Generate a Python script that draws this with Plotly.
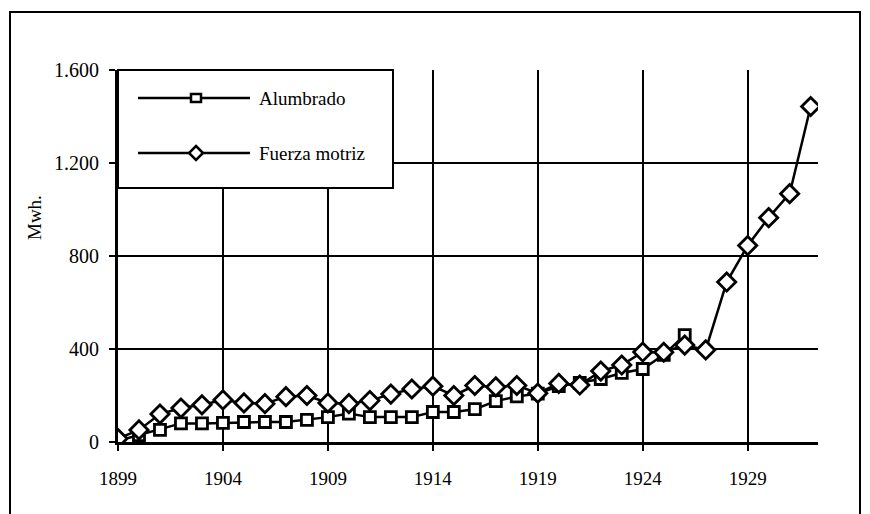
import plotly.graph_objects as go

years_alumbrado = list(range(1899, 1927))
alumbrado = [5, 30, 52, 80, 80, 82, 86, 86, 86, 95, 107, 122, 107, 107, 107, 129,
             129, 141, 176, 196, 208, 240, 254, 271, 297, 314, 375, 460]

years_fuerza = list(range(1899, 1933))
fuerza = [15, 52, 120, 146, 160, 181, 168, 165, 195, 200, 168, 165, 178, 206, 228, 240,
          200, 243, 237, 243, 210, 252, 245, 305, 331, 387, 386, 417, 396, 688, 845,
          965, 1068, 1443]

x_tick_vals = [1899, 1904, 1909, 1914, 1919, 1924, 1929]
y_tick_vals = [0, 400, 800, 1200, 1600]

FONT = "Liberation Serif, Times New Roman, serif"

# page offset of the figure div (body margin)
OFF = 8
# plot area in page pixels
L, R, T, B = 118, 818, 70, 442
W, H = 870 - OFF, 514 - OFF


def px(xp):
    return (xp - L) / (R - L)


def py(yp):
    return (B - yp) / (B - T)


fig = go.Figure()
fig.add_trace(go.Scatter(
    x=years_alumbrado, y=alumbrado, mode="lines+markers", name="Alumbrado",
    line=dict(color="black", width=2.5),
    marker=dict(symbol="square", size=11, color="white", line=dict(color="black", width=2.8)),
    showlegend=False,
))
fig.add_trace(go.Scatter(
    x=years_fuerza, y=fuerza, mode="lines+markers", name="Fuerza motriz",
    line=dict(color="black", width=2.5),
    marker=dict(symbol="diamond", size=14, color="white", line=dict(color="black", width=2.8)),
    showlegend=False,
))

shapes = []
# outer frame
shapes.append(dict(type="rect", xref="paper", yref="paper",
                   x0=px(10), x1=px(860), y0=py(530), y1=py(12),
                   line=dict(color="black", width=2), layer="below"))
# legend box
shapes.append(dict(type="rect", xref="paper", yref="paper",
                   x0=px(118), x1=px(393), y0=py(188), y1=py(70),
                   line=dict(color="black", width=2), fillcolor="white", layer="above"))
annotations = []
for row_y, label, sym in [(98, "Alumbrado", "square"), (153, "Fuerza motriz", "diamond")]:
    shapes.append(dict(type="line", xref="paper", yref="paper",
                       x0=px(138), x1=px(250), y0=py(row_y), y1=py(row_y),
                       line=dict(color="black", width=2.5), layer="above"))
    cx = 196
    if sym == "square":
        s = 5
        path = (f"M{px(cx - s)},{py(row_y - s * 0.8)} L{px(cx + s)},{py(row_y - s * 0.8)} "
                f"L{px(cx + s)},{py(row_y + s * 0.8)} L{px(cx - s)},{py(row_y + s * 0.8)} Z")
    else:
        s = 7
        path = (f"M{px(cx)},{py(row_y - s)} L{px(cx + s)},{py(row_y)} "
                f"L{px(cx)},{py(row_y + s)} L{px(cx - s)},{py(row_y)} Z")
    shapes.append(dict(type="path", xref="paper", yref="paper", path=path,
                       fillcolor="white", line=dict(color="black", width=2.5), layer="above"))
    annotations.append(dict(xref="paper", yref="paper", x=px(257), y=py(row_y),
                            text=label, showarrow=False, xanchor="left", yanchor="middle",
                            font=dict(family=FONT, size=19, color="black")))

annotations.append(dict(xref="paper", yref="paper", x=px(34), y=py(218), text="Mwh.",
                        textangle=-90, showarrow=False, xanchor="center", yanchor="middle",
                        font=dict(family=FONT, size=19, color="black")))

fig.update_layout(
    width=W, height=H,
    margin=dict(l=L - OFF, r=W - (R - OFF), t=T - OFF, b=H - (B - OFF), pad=0),
    paper_bgcolor="white", plot_bgcolor="white",
    separators=",.",
    shapes=shapes, annotations=annotations,
    showlegend=False,
)
fig.update_xaxes(
    range=[1899, 1932.35], tickvals=x_tick_vals, ticktext=[str(v) for v in x_tick_vals],
    showgrid=True, gridcolor="black", gridwidth=2,
    showline=True, linecolor="black", linewidth=3,
    ticks="outside", ticklen=6, tickwidth=2, tickcolor="black",
    ticklabelstandoff=11,
    tickfont=dict(family=FONT, size=19, color="black"), zeroline=False,
)
fig.update_yaxes(
    range=[0, 1600], tickvals=y_tick_vals, tickformat=",d",
    showgrid=True, gridcolor="black", gridwidth=2,
    showline=True, linecolor="black", linewidth=3,
    ticks="outside", ticklen=6, tickwidth=2, tickcolor="black",
    ticklabelstandoff=6,
    tickfont=dict(family=FONT, size=20, color="black"), zeroline=False,
)

fig.write_html("out.html")
